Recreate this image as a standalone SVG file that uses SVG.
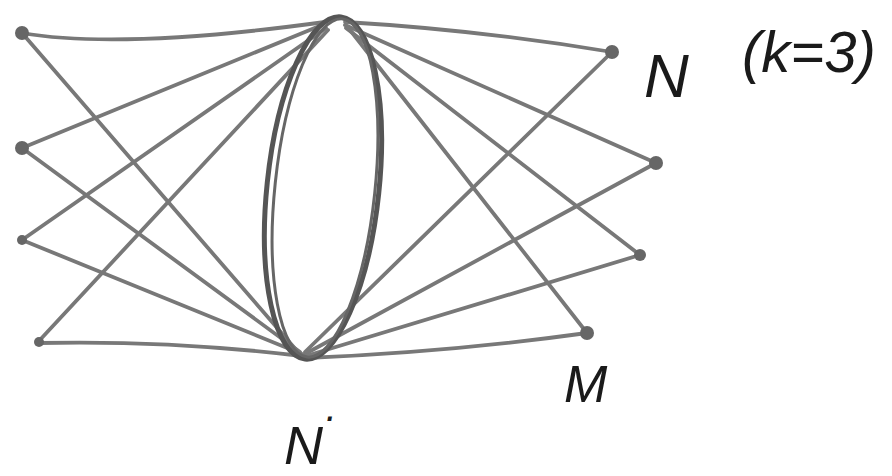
<svg xmlns="http://www.w3.org/2000/svg" width="892" height="476" viewBox="0 0 892 476">
<style>
.e{fill:none;stroke:#787878;stroke-width:3.8;stroke-linecap:round}
.n{fill:#666}
.h{fill:none;stroke:#555;stroke-width:5}
.t{font-family:"Liberation Sans",Arial,sans-serif;font-style:italic;fill:#1a1a1a}
</style>
<rect width="892" height="476" fill="#fff"/>
<g id="connectors">
<path class="e" d="M22,33 Q120,50 325,22"/>
<path class="e" d="M22,33 L298,352"/>
<path class="e" d="M22,148 L322,25"/>
<path class="e" d="M22,148 L300,352"/>
<path class="e" d="M22,240 L326,28"/>
<path class="e" d="M22,240 L302,354"/>
<path class="e" d="M38,342 L328,30"/>
<path class="e" d="M38,343 Q170,340 302,356"/>
<path class="e" d="M345,22 Q480,30 612,52"/>
<path class="e" d="M612,52 L305,352"/>
<path class="e" d="M345,25 L656,163"/>
<path class="e" d="M656,163 L305,354"/>
<path class="e" d="M346,28 L640,255"/>
<path class="e" d="M640,255 L306,356"/>
<path class="e" d="M350,30 L587,333"/>
<path class="e" d="M587,333 Q450,352 306,358"/>
</g>
<g id="ellipse">
<ellipse class="h" cx="323" cy="188" rx="56" ry="172" transform="rotate(6 323 188)"/>
<ellipse fill="none" stroke="#666" stroke-width="3" cx="325" cy="188" rx="50" ry="170" transform="rotate(6 325 188)"/>
</g>
<g id="L1"><circle class="n" cx="22" cy="33" r="7"/></g>
<g id="L2"><circle class="n" cx="22" cy="148" r="7"/></g>
<g id="L3"><circle class="n" cx="22" cy="240" r="5"/></g>
<g id="L4"><circle class="n" cx="39" cy="342" r="5"/></g>
<g id="R1"><circle class="n" cx="612" cy="52" r="7"/></g>
<g id="R2"><circle class="n" cx="656" cy="163" r="7"/></g>
<g id="R3"><circle class="n" cx="640" cy="255" r="6"/></g>
<g id="R4"><circle class="n" cx="587" cy="333" r="7"/></g>
<g id="labels">
<text class="t" x="644" y="97" font-size="62">N</text>
<text class="t" x="742" y="72" font-size="58">(k=3)</text>
<text class="t" x="564" y="402" font-size="52">M</text>
<text class="t" x="284" y="464" font-size="54">N<tspan dy="-34" font-size="40">·</tspan></text>
</g>
</svg>
